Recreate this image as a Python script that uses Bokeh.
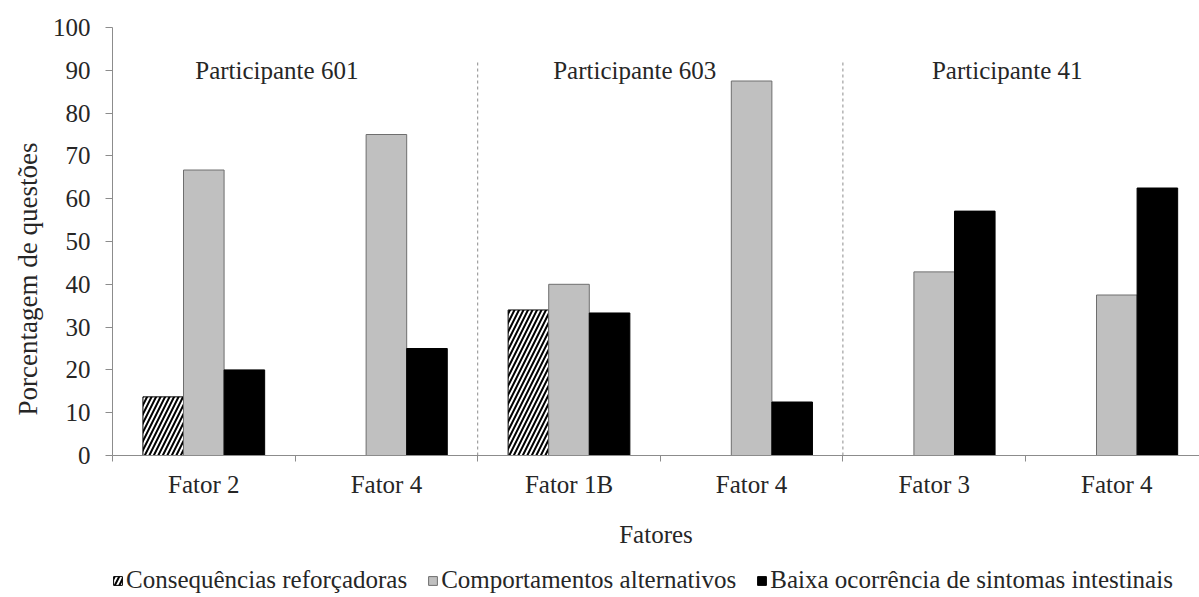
from bokeh.plotting import figure
from bokeh.layouts import column
from bokeh.models import Range1d, FixedTicker, Legend, LegendItem, ColumnDataSource, Title
from bokeh.embed import file_html
from bokeh.resources import INLINE
from bokeh.core.properties import value

# ---- data ----
fatores = ["Fator 2", "Fator 4", "Fator 1B", "Fator 4", "Fator 3", "Fator 4"]
participantes = ["Participante 601", "Participante 603", "Participante 41"]
series_names = ["Consequências reforçadoras", "Comportamentos alternativos",
                "Baixa ocorrência de sintomas intestinais"]
consequencias = [13.7, 0.0, 34.0, 0.0, 0.0, 0.0]
comportamentos = [66.7, 75.0, 40.0, 87.5, 42.9, 37.5]
baixa = [20.0, 25.0, 33.3, 12.5, 57.1, 62.5]
y_ticks = list(range(0, 101, 10))
separators = [2, 4]          # category boundaries between participants

FONT = "Liberation Serif"
TXT = "#262626"
AX = "#8c8c8c"

n = len(fatores)
centers = [i + 0.5 for i in range(n)]
bw = 1 / 4.5

STYLES = [dict(fill_color="white", line_color="black", line_width=1,
               hatch_pattern="/", hatch_color="black", hatch_scale=9, hatch_weight=2),
          dict(fill_color="#c0c0c0", line_color="#6e6e6e", line_width=1),
          dict(fill_color="black", line_color="black", line_width=1)]

p = figure(width=1199, height=557, output_backend="svg", toolbar_location=None,
           x_range=Range1d(0, (1199 - 112) / 182.6), y_range=Range1d(0, 100),
           min_border_left=112, min_border_top=27, min_border_right=0,
           min_border_bottom=102)
p.outline_line_color = None
p.xgrid.visible = False
p.ygrid.visible = False
p.background_fill_color = "white"
p.border_fill_color = "white"

def keep(vals, off):
    xs = [c + off for c, v in zip(centers, vals) if v > 0]
    ys = [v for v in vals if v > 0]
    return ColumnDataSource(dict(x=xs, top=ys))

for vals, off, st in zip([consequencias, comportamentos, baixa], [-bw, 0, bw], STYLES):
    p.vbar(x="x", top="top", width=bw, source=keep(vals, off), **st)

# separators
p.segment(x0=separators, x1=separators, y0=[0] * len(separators), y1=[92] * len(separators),
          line_color="#8c8c8c", line_dash="3 3", line_width=1)

# participant labels
p.text(x=[0.9, 2.86, 4.9], y=[90, 90, 90], text=participantes,
       text_font=value(FONT), text_font_size="25px", text_color=TXT,
       text_align="center", text_baseline="middle")

# axes
xa = p.xaxis[0]
xa.ticker = FixedTicker(ticks=centers, minor_ticks=list(range(n + 1)))
xa.major_label_overrides = {c: f for c, f in zip(centers, fatores)}
xa.major_tick_out = 0
xa.major_tick_in = 0
xa.minor_tick_out = 6
xa.minor_tick_in = 0
xa.minor_tick_line_color = AX
xa.axis_line_color = AX
xa.major_label_standoff = 9
xa.major_label_text_font = FONT
xa.major_label_text_font_size = "25px"
xa.major_label_text_color = TXT
xa.axis_label = "Fatores"
xa.axis_label_text_font = FONT
xa.axis_label_text_font_size = "25px"
xa.axis_label_text_font_style = "normal"
xa.axis_label_text_color = TXT
xa.axis_label_standoff = 20

ya = p.yaxis[0]
ya.ticker = FixedTicker(ticks=y_ticks)
ya.major_tick_out = 7
ya.major_tick_in = 0
ya.minor_tick_line_color = None
ya.major_tick_line_color = AX
ya.axis_line_color = AX
ya.major_label_standoff = 15
ya.major_label_text_font = FONT
ya.major_label_text_font_size = "25px"
ya.major_label_text_color = TXT

ytitle = Title(text="Porcentagem de questões", align="left", offset=40,
               text_font=FONT, text_font_size="27px", text_font_style="normal",
               text_color=TXT, standoff=14)
p.add_layout(ytitle, "left")

# ---- legend strip below the chart ----
lg = figure(width=1199, height=40, output_backend="svg", toolbar_location=None,
            x_range=Range1d(0, 1), y_range=Range1d(0, 1),
            x_axis_location=None, y_axis_location=None,
            min_border_left=0, min_border_right=0, min_border_top=0, min_border_bottom=0)
lg.outline_line_color = None
lg.xgrid.visible = False
lg.ygrid.visible = False
lg.background_fill_color = "white"
lg.border_fill_color = "white"

items = []
for name, st in zip(series_names, STYLES):
    # a placeholder bar outside the visible range, only to give the legend its swatch
    r = lg.vbar(x=[5], top=[1], width=0.1, **st)
    items.append(LegendItem(label=name, renderers=[r]))

legend = Legend(items=items, orientation="horizontal", location=(0, 3),
                glyph_width=11, glyph_height=11, label_standoff=3, spacing=20,
                padding=0, margin=0, border_line_color=None,
                background_fill_alpha=0,
                label_text_font=FONT, label_text_font_size="25px",
                label_text_color=TXT, label_height=28)
lg.add_layout(legend)

layout = column(p, lg, spacing=0)
open("out.html", "w").write(file_html(layout, INLINE))
